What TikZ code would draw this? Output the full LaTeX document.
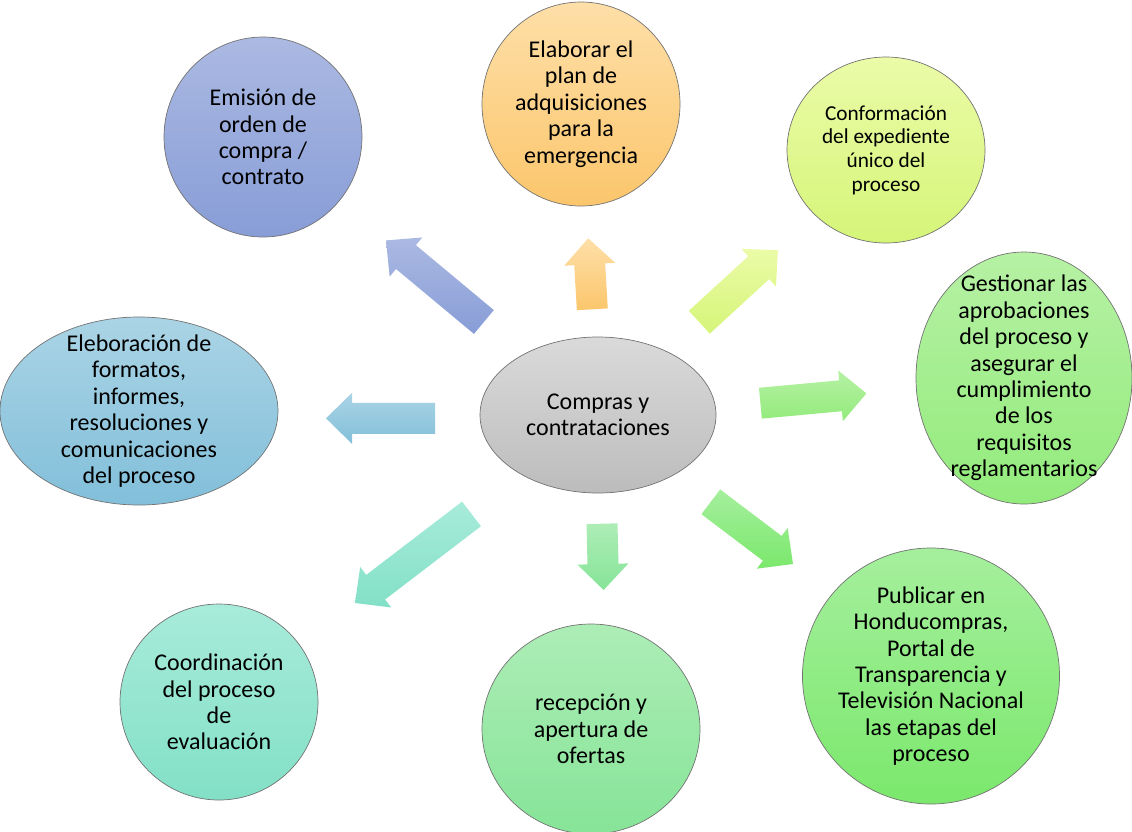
\documentclass[tikz,border=0pt]{standalone}
\usepackage{fontspec}
\setmainfont{Carlito}
\usetikzlibrary{shapes.geometric, calc}

\definecolor{emiA}{HTML}{ABB9E2}\definecolor{emiB}{HTML}{889DD7}
\definecolor{planA}{HTML}{FEDFA8}\definecolor{planB}{HTML}{FBC66C}
\definecolor{expA}{HTML}{EBFBA8}\definecolor{expB}{HTML}{D5F578}
\definecolor{aproA}{HTML}{B6F1A4}\definecolor{aproB}{HTML}{93EB7C}
\definecolor{formA}{HTML}{AAD4E5}\definecolor{formB}{HTML}{82BFDA}
\definecolor{hubA}{HTML}{DADADA}\definecolor{hubB}{HTML}{BCBCBC}
\definecolor{evalA}{HTML}{A8EBDA}\definecolor{evalB}{HTML}{82E0C6}
\definecolor{oferA}{HTML}{ADEDB6}\definecolor{oferB}{HTML}{86E498}
\definecolor{pubA}{HTML}{A5EF9D}\definecolor{pubB}{HTML}{7BE86C}

\tikzset{
  bubble/.style 2 args={ellipse, draw=black!55, line width=0.7pt,
    top color=#1, bottom color=#2, align=center,
    inner xsep=-12pt, inner ysep=-22pt,
    font=\fontsize{24}{26.4}\selectfont},
  blockfill/.style 2 args={top color=#1, bottom color=#2, draw=none}
}

% block arrow from tail centre #1 to tip #2
\newcommand{\blockarrow}[3]{%
  \coordinate (bm) at ($(#2)!26pt!(#1)$);
  \path[#3] ($(#1)!15.5pt!90:(#2)$) -- ($(bm)!15.5pt!-90:(#1)$)
    -- ($(bm)!25.5pt!-90:(#1)$) -- (#2) -- ($(bm)!25.5pt!90:(#1)$)
    -- ($(bm)!15.5pt!90:(#1)$) -- ($(#1)!15.5pt!-90:(#2)$) -- cycle;}

\begin{document}
\begin{tikzpicture}[x=1pt, y=-1pt]
\useasboundingbox (0,0) rectangle (1132,831);

% arrows round the hub
\coordinate (nwT) at (483.9,322);  \coordinate (nwP) at (386,240.4);
\coordinate (nT) at (592.3,309.3); \coordinate (nP) at (588.2,238.3);
\coordinate (neT) at (699.3,322.2);\coordinate (neP) at (777.9,250.1);
\coordinate (eT) at (760.4,403.2); \coordinate (eP) at (866.4,393.4);
\coordinate (seT) at (710.8,501.8);\coordinate (seP) at (793,564);
\coordinate (sT) at (602,523.7);   \coordinate (sP) at (603.6,590);
\coordinate (swT) at (471.5,513.9);\coordinate (swP) at (355,603);
\coordinate (wT) at (435,418.3);   \coordinate (wP) at (326,418.3);

\blockarrow{nwT}{nwP}{blockfill={emiA}{emiB}}
\blockarrow{nT}{nP}{blockfill={planA}{planB}}
\blockarrow{neT}{neP}{blockfill={expA}{expB}}
\blockarrow{eT}{eP}{blockfill={aproA}{aproB}}
\blockarrow{seT}{seP}{blockfill={pubA}{pubB}}
\blockarrow{sT}{sP}{blockfill={oferA}{oferB}}
\blockarrow{swT}{swP}{blockfill={evalA}{evalB}}
\blockarrow{wT}{wP}{blockfill={formA}{formB}}

\node[bubble={hubA}{hubB}, minimum width=236pt, minimum height=156pt] (hub) at (598,415) {Compras y\\contrataciones};

\node[bubble={emiA}{emiB}, minimum width=198pt, minimum height=200pt] (emi) at (263,137) {Emisión de\\orden de\\compra /\\contrato};
\node[bubble={planA}{planB}, minimum width=198pt, minimum height=204pt] (plan) at (581,104) {Elaborar el\\plan de\\adquisiciones\\para la\\emergencia};
\node[bubble={expA}{expB}, minimum width=198pt, minimum height=186pt,
  font=\fontsize{21.3}{23.7}\selectfont] (exp) at (886,150) {Conformación\\del expediente\\único del\\proceso};
\node[bubble={aproA}{aproB}, minimum width=216pt, minimum height=252pt] (apro) at (1024,378) {Gestionar las\\aprobaciones\\del proceso y\\asegurar el\\cumplimiento\\de los\\requisitos\\reglamentarios};
\node[bubble={formA}{formB}, minimum width=278pt, minimum height=188pt] (form) at (139,411) {Eleboración de\\formatos,\\informes,\\resoluciones y\\comunicaciones\\del proceso};
\node[bubble={evalA}{evalB}, minimum width=198pt, minimum height=196pt] (eval) at (219,702) {Coordinación\\del proceso\\de\\evaluación};
\node[bubble={oferA}{oferB}, minimum width=218pt, minimum height=210pt] (ofer) at (591,729) {recepción y\\apertura de\\ofertas};
\node[bubble={pubA}{pubB}, minimum width=257pt, minimum height=256pt] (pub) at (931,676) {Publicar en\\Honducompras,\\Portal de\\Transparencia y\\Televisión Nacional\\las etapas del\\proceso};
\end{tikzpicture}
\end{document}
